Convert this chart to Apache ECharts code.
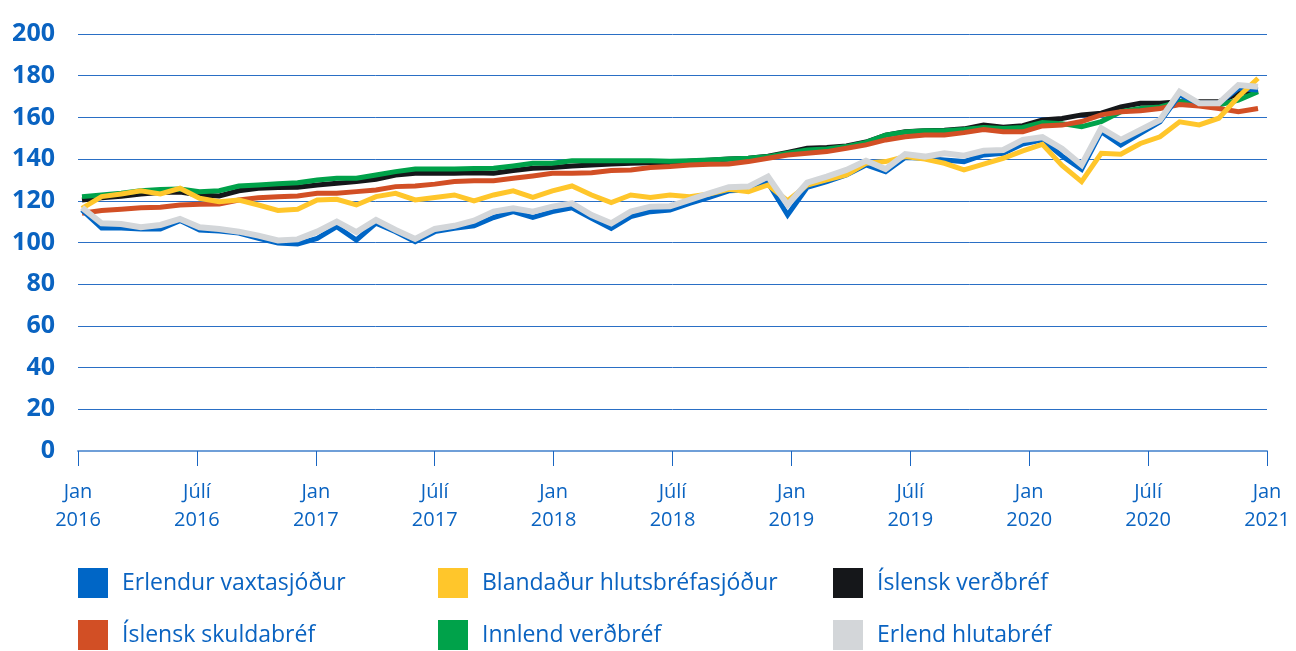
<!DOCTYPE html>
<html>
<head>
<meta charset="utf-8">
<script src="https://cdn.jsdelivr.net/npm/echarts@6/dist/echarts.min.js"></script>
<style>
html,body{margin:0;padding:0;background:#fff;}
#c{width:1296px;height:651px;}
</style>
</head>
<body>
<div id="c"></div>
<script>
// Months Jan 2016 .. Jan 2021
const months = [];
for (let y = 2016; y <= 2021; y++) for (let m = 1; m <= 12; m++) { if (y === 2021 && m > 1) break; months.push(y + '-' + (m < 10 ? '0' : '') + m); }

const tickLabels = ['Jan\n2016','Júlí\n2016','Jan\n2017','Júlí\n2017','Jan\n2018','Júlí\n2018','Jan\n2019','Júlí\n2019','Jan\n2020','Júlí\n2020','Jan\n2021'];
const yTicks = [0,20,40,60,80,100,120,140,160,180,200];

const seriesNames = ['Erlendur vaxtasjóður','Blandaður hlutsbréfasjóður','Íslensk verðbréf','Íslensk skuldabréf','Innlend verðbréf','Erlend hlutabréf'];

const erlendurVaxtasjodur = [115.6,107,107,106.5,106.5,110.5,106,105.5,104.5,102,99.8,99.3,102,107.6,101.2,109.3,105.2,100.4,105.2,106.8,108,112,114.8,112,114.8,116.7,111.6,106.8,112.4,114.8,115.6,118.8,121.6,124.8,125.2,128.7,113.2,126.5,129.2,132.4,137.2,134,140.8,140.4,139.6,138.8,142,142.8,147.2,149.2,141.5,135.1,153.1,146.8,152.4,157.9,170.7,166.8,166.8,173.9,173.1];

const blandadurHlutabrefasjodur = [116.4,122,123.3,124.8,123.3,126,121.2,119.6,120.4,118,115.4,115.9,120.4,120.7,118,122,123.6,120.4,121.6,122.8,120,122.8,124.8,121.6,124.8,127.1,122.8,119.1,122.8,121.6,122.8,122,123.3,125.5,124.4,127.6,120,127.6,130,132.4,138,138.8,141.2,140,138,134.8,137.6,140.4,143.9,147.1,137,129.2,142.8,142.3,147.5,150.7,157.9,156.4,159.6,169.9,178.8];

const islenskVerdbref = [120.4,121.5,122.2,123.3,124,124.2,122.8,122.3,124.8,126,126.4,126.5,127.6,128.4,129.2,130.3,132.4,133.2,133.2,133.2,133.4,133.2,134.5,135.6,136,136.7,137.2,137.6,138,138.2,138.3,139,139.5,140,140.4,141.4,143.2,145.2,145.6,146.3,148.2,151.5,153.1,153.6,153.8,154.5,156.4,155.3,156,158.8,159.5,161.2,162,165,166.8,166.8,167.5,167.5,167.5,171.5,173.1];

const islenskSkuldabref = [114,115.3,115.9,116.7,116.9,118,118.3,118.5,120.4,121.5,122,122.3,123.6,123.6,124.4,125.2,126.8,127.1,128,129.2,129.6,129.6,130.8,131.9,133.2,133.2,133.5,134.5,134.8,136,136.4,137.2,137.5,137.6,138.8,140.4,142,142.8,143.6,145.2,146.8,149.2,150.7,151.6,151.6,152.7,154.2,153.1,153.1,155.9,156.3,158,161.2,162.7,163.2,164.3,166.2,165.5,164.3,162.7,164.3];

const innlendVerdbref = [122,122.8,123.6,124.8,125.4,125.6,124.4,124.8,127.1,127.6,128.2,128.7,130,130.8,130.8,132.4,134,135.3,135.3,135.3,135.5,135.6,136.7,138,138,139.2,139.2,139.2,139.2,139.2,139,139.2,139.6,140,140.4,141.2,142.8,144.4,144.8,146,148,151.5,153,153.6,153.6,154.2,155.2,154.7,155.2,157.5,157,155.5,158,162.7,164.3,165,167.5,166.8,166,168.3,172.3];

const erlendHlutabref = [116.7,109.2,108.9,107.3,108.4,111.3,107.3,106.5,105.2,103.3,101,101.5,105.2,110,105,110.8,106,101.7,106.5,108,110.5,114.8,116.4,114.8,117.2,118.8,113.2,109.2,114.8,117.2,117.4,120.4,123.6,126.5,126.8,131.6,118,128.7,131.6,134.8,139.2,135.2,142.4,141.2,142.8,141.6,144,144.4,149.2,150.5,145,137.2,154.8,149.2,154,158.8,172.3,166.8,166.8,175.5,174.7];

const colors = {
  'Erlendur vaxtasjóður': '#0066c6',
  'Blandaður hlutsbréfasjóður': '#ffc62b',
  'Íslensk verðbréf': '#15171a',
  'Íslensk skuldabréf': '#d24f25',
  'Innlend verðbréf': '#00a24a',
  'Erlend hlutabréf': '#d3d6d9'
};

const txtBlue = '#0a63c1';
const FONT = "'Open Sans', 'Noto Sans', sans-serif";

const chart = echarts.init(document.getElementById('c'), null, {renderer: 'canvas'});

function mkSeries(name, data, width, z) {
  return {
    name: name, type: 'line', data: data, xAxisIndex: 1, yAxisIndex: 1,
    showSymbol: false, symbol: 'none', smooth: false, z: z,
    lineStyle: { color: colors[name], width: width, join: 'miter', cap: 'butt' },
    itemStyle: { color: colors[name] },
    emphasis: { disabled: true }, animation: false
  };
}

const legendPos = [
  [78, 568], [438, 568], [833, 568],
  [78, 620], [438, 620], [833, 620]
];
const legendOrder = ['Erlendur vaxtasjóður','Blandaður hlutsbréfasjóður','Íslensk verðbréf','Íslensk skuldabréf','Innlend verðbréf','Erlend hlutabréf'];
const legends = legendOrder.map((n, i) => ({
  data: [n], left: legendPos[i][0], top: legendPos[i][1], padding: 0,
  icon: 'rect', itemWidth: 30, itemHeight: 30, selectedMode: false,
  textStyle: { color: txtBlue, fontSize: 23, fontFamily: FONT, padding: [0, 0, 0, 9] }
}));

const option = {
  animation: false,
  backgroundColor: '#ffffff',
  legend: legends,
  grid: [
    { left: 78, right: 29, top: 34, bottom: 200, containLabel: false },
    { left: 82, right: 38, top: 34, bottom: 200, containLabel: false }
  ],
  xAxis: [
    {
      type: 'category', gridIndex: 0, data: months, boundaryGap: false,
      axisLine: { show: true, lineStyle: { color: '#6f9fd8', width: 2 } },
      axisTick: { show: true, interval: 5, length: 15, lineStyle: { color: '#1a66c2', width: 1 } },
      axisLabel: {
        interval: 5, margin: 27, color: txtBlue, fontSize: 20, lineHeight: 28, fontFamily: FONT,
        formatter: function (v, idx) { return idx % 6 === 0 ? tickLabels[idx / 6] : ''; }
      },
      splitLine: { show: false }
    },
    {
      type: 'category', gridIndex: 1, data: months, boundaryGap: false, show: false
    }
  ],
  yAxis: [
    {
      type: 'value', gridIndex: 0, min: 0, max: 200, interval: 20,
      axisLine: { show: false }, axisTick: { show: false },
      axisLabel: { margin: 23, color: txtBlue, fontSize: 25, fontWeight: 'bold', fontFamily: FONT,
        formatter: function (v) { return yTicks.indexOf(v) >= 0 ? String(v) : ''; } },
      splitLine: { show: true, lineStyle: { color: '#2a6fc5', width: 1 } }
    },
    {
      type: 'value', gridIndex: 1, min: 0, max: 200, interval: 20, show: false,
      splitLine: { show: false }
    }
  ],
  series: [
    mkSeries('Íslensk verðbréf', islenskVerdbref, 5, 2),
    mkSeries('Innlend verðbréf', innlendVerdbref, 5, 3),
    mkSeries('Íslensk skuldabréf', islenskSkuldabref, 5, 4),
    mkSeries('Erlendur vaxtasjóður', erlendurVaxtasjodur, 5, 5),
    mkSeries('Blandaður hlutsbréfasjóður', blandadurHlutabrefasjodur, 5, 6),
    mkSeries('Erlend hlutabréf', erlendHlutabref, 6, 7)
  ]
};
chart.setOption(option);
</script>
</body>
</html>
